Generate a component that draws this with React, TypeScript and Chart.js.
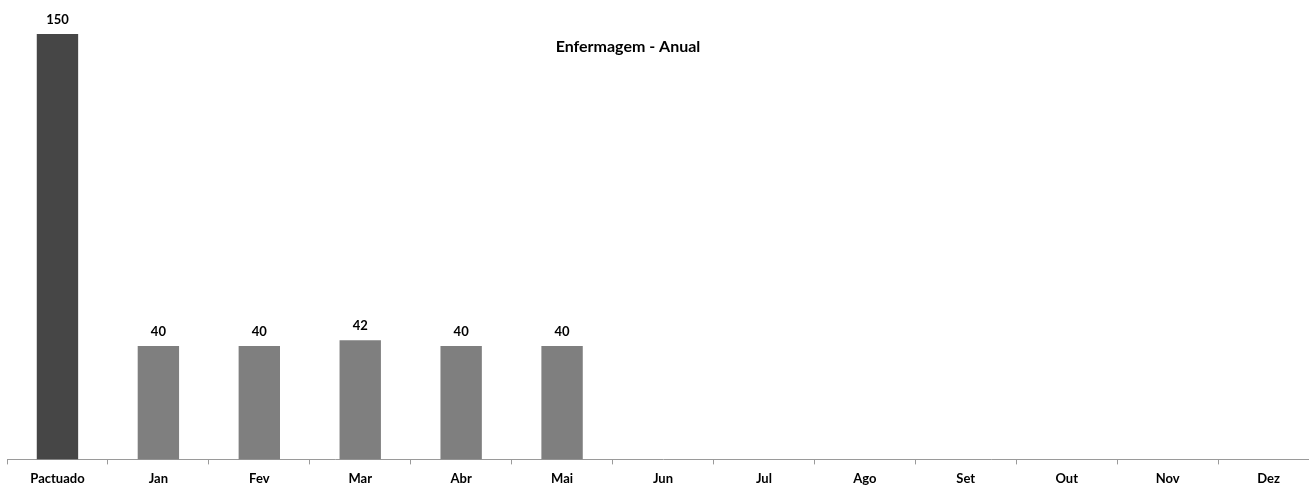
import React, { useEffect, useRef } from "react";
import { Chart, registerables } from "chart.js";

Chart.register(...registerables);

const categories = ["Pactuado", "Jan", "Fev", "Mar", "Abr", "Mai", "Jun", "Jul", "Ago", "Set", "Out", "Nov", "Dez"];
const values: (number | null)[] = [150, 40, 40, 42, 40, 40, null, null, null, null, null, null, null];
const barColors = ["#464646", "#7f7f7f", "#7f7f7f", "#7f7f7f", "#7f7f7f", "#7f7f7f", "#7f7f7f", "#7f7f7f", "#7f7f7f", "#7f7f7f", "#7f7f7f", "#7f7f7f", "#7f7f7f"];
const chartTitle = "Enfermagem - Anual";

const FONT = "Lato, 'Open Sans', sans-serif";

const labelPlugin = {
  id: "valueLabels",
  afterDatasetsDraw(chart: any) {
    const ctx = chart.ctx;
    const meta = chart.getDatasetMeta(0);
    ctx.save();
    ctx.fillStyle = "#000";
    ctx.font = `bold 13px ${FONT}`;
    ctx.textAlign = "center";
    ctx.textBaseline = "middle";
    meta.data.forEach((el: any, i: number) => {
      const v = values[i];
      if (v === null || v === undefined) return;
      ctx.fillText(String(v), el.x, el.y - 14);
    });
    ctx.restore();
  },
};

const titlePlugin = {
  id: "innerTitle",
  afterDraw(chart: any) {
    const { ctx, chartArea } = chart;
    ctx.save();
    ctx.fillStyle = "#000";
    ctx.font = `bold 16px ${FONT}`;
    ctx.textAlign = "center";
    ctx.textBaseline = "middle";
    const x = chartArea.left + (chartArea.right - chartArea.left) * 0.4733;
    ctx.fillText(chartTitle, x, chartArea.top + 13);
    ctx.restore();
  },
};

export default function App() {
  const ref = useRef<HTMLCanvasElement>(null);
  useEffect(() => {
    if (!ref.current) return;
    const chart = new Chart(ref.current, {
      type: "bar",
      data: {
        labels: categories,
        datasets: [
          {
            data: values,
            backgroundColor: barColors,
            barPercentage: 0.41,
            categoryPercentage: 1,
          },
        ],
      },
      options: {
        animation: false,
        responsive: false,
        maintainAspectRatio: false,
        layout: { padding: { left: 7, top: 34, right: 11, bottom: 0 } },
        plugins: { legend: { display: false }, tooltip: { enabled: false }, title: { display: false } },
        scales: {
          x: {
            grid: {
              display: true,
              offset: true,
              drawOnChartArea: false,
              drawTicks: true,
              tickLength: 5,
              tickColor: "#9a9a9a",
            },
            border: { display: true, color: "#9a9a9a", width: 1 },
            ticks: {
              color: "#000",
              font: { family: FONT, size: 13, weight: "bold" },
              padding: 7,
              maxRotation: 0,
              autoSkip: false,
            },
          },
          y: {
            display: false,
            min: 0,
            max: 150,
          },
        },
      },
      plugins: [labelPlugin, titlePlugin],
    });
    return () => chart.destroy();
  }, []);
  return (
    <div style={{ position: "absolute", left: 0, top: 0, width: 1309, height: 486, overflow: "hidden", background: "#fff" }}>
      <canvas ref={ref} width={1330} height={494} style={{ width: 1330, height: 494, display: "block" }} />
    </div>
  );
}
